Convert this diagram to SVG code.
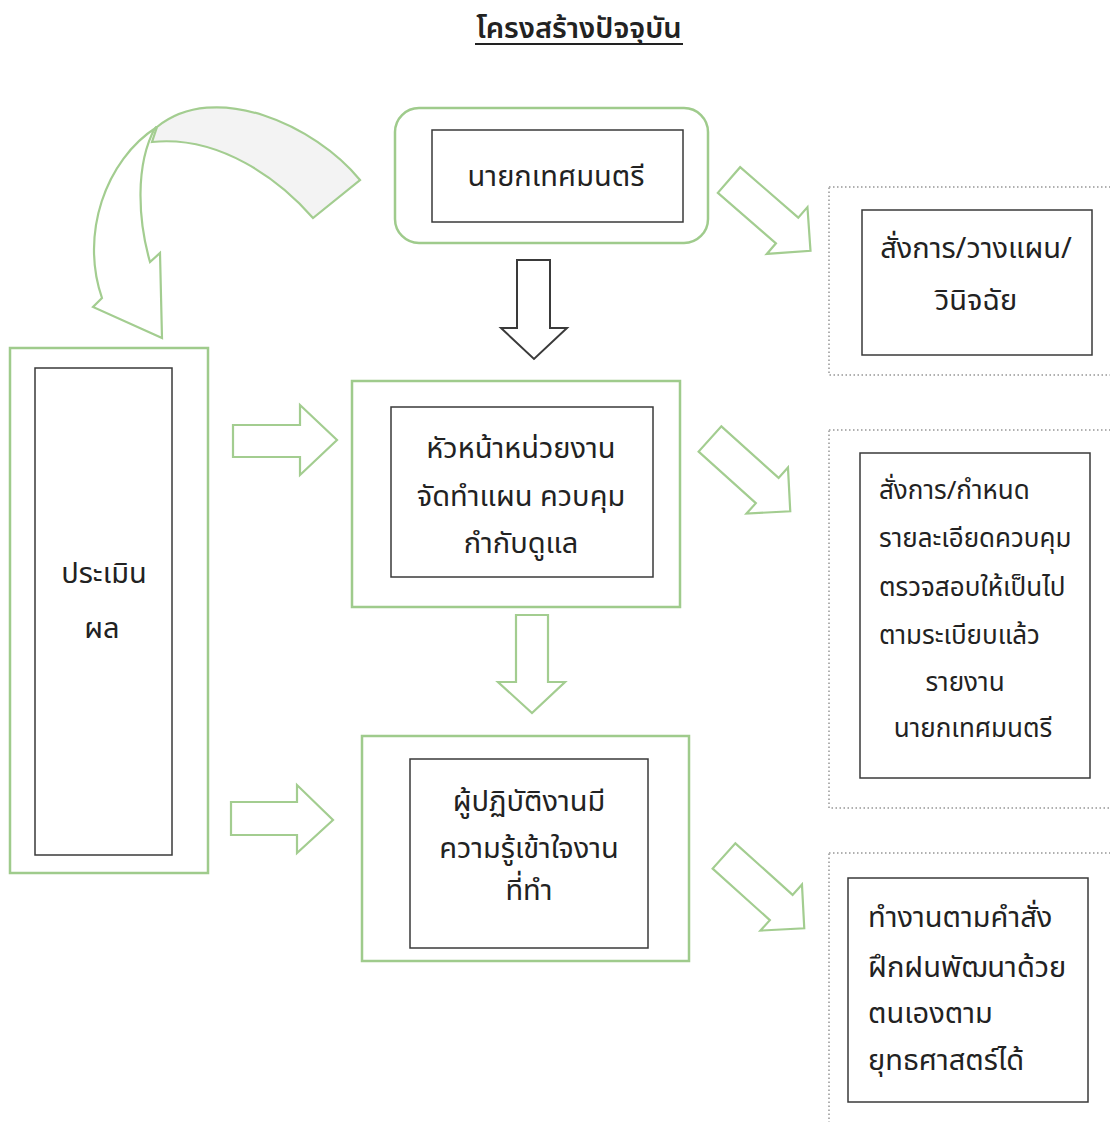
<svg xmlns="http://www.w3.org/2000/svg" width="1110" height="1122" viewBox="0 0 1110 1122">
<style>
  text { font-family: "Noto Sans Thai", "Noto Sans", "DejaVu Sans", sans-serif; fill: #222; }
  .t { font-size: 29px; }
  .s { font-size: 26px; }
  .c { text-anchor: middle; }
  .outer { fill: #fff; stroke: #9fcb8c; stroke-width: 2.5; }
  .inner { fill: #fff; stroke: #3a3a3a; stroke-width: 1.5; }
  .dotted { fill: #fff; stroke: #b0b0b0; stroke-width: 2; stroke-dasharray: 1.5 2.5; }
  .garrow { fill: #fff; stroke: #a3cd90; stroke-width: 2.2; stroke-linejoin: miter; }
  .darrow { fill: #fff; stroke: #3a3a3a; stroke-width: 2; }
</style>
<defs>
  <polygon id="diag" points="0,-17 77,-17 77,-31 108,0 77,31 77,17 0,17"/>
</defs>
<rect width="1110" height="1122" fill="#fff"/>

<g id="title">
  <text x="579" y="38" class="c" style="font-size:29px;font-weight:600">โครงสร้างปัจจุบัน</text>
  <line x1="475" y1="44" x2="683" y2="44" stroke="#222" stroke-width="2"/>
</g>

<g id="connectors">
  <g id="curved-arrow">
    <path class="garrow" style="fill:#f3f3f3" d="M 360,180 C 315,125 215,80 157,127 L 152,142 C 220,135 280,180 313,218 Z"/>
    <path class="garrow" d="M 157,127 C 105,160 80,235 102,298 L 93,307 L 162,338 L 160,253 L 150,262 C 138,220 135,165 155,128 Z"/>
  </g>
  <polygon class="darrow" points="517,260 550,260 550,328 567,328 534,359 501,328 517,328"/>
  <polygon class="garrow" points="516,615 548,615 548,682 565,682 532,713 498,682 516,682"/>
  <polygon class="garrow" points="233,425 300,425 300,405 337,440 300,475 300,457 233,457"/>
  <polygon class="garrow" points="231,802 297,802 297,785 333,820 297,853 297,835 231,835"/>
  <use href="#diag" class="garrow" transform="translate(729,180) rotate(41)"/>
  <use href="#diag" class="garrow" transform="translate(710,439) rotate(42)"/>
  <use href="#diag" class="garrow" transform="translate(724,856) rotate(42)"/>
</g>

<g id="node-mayor">
  <rect class="outer" x="395" y="108" width="313" height="135" rx="24"/>
  <rect class="inner" x="432" y="130" width="251" height="92"/>
  <text class="t c" x="556" y="186">นายกเทศมนตรี</text>
</g>

<g id="node-head">
  <rect class="outer" x="352" y="381" width="328" height="226"/>
  <rect class="inner" x="391" y="407" width="262" height="170"/>
  <text class="t c" x="521" y="458">หัวหน้าหน่วยงาน</text>
  <text class="t c" x="521" y="506">จัดทำแผน ควบคุม</text>
  <text class="t c" x="521" y="553">กำกับดูแล</text>
</g>

<g id="node-worker">
  <rect class="outer" x="362" y="736" width="327" height="225"/>
  <rect class="inner" x="410" y="759" width="238" height="189"/>
  <text class="t c" x="529" y="811">ผู้ปฏิบัติงานมี</text>
  <text class="t c" x="529" y="858">ความรู้เข้าใจงาน</text>
  <text class="t c" x="529" y="900">ที่ทำ</text>
</g>

<g id="node-eval">
  <rect class="outer" x="10" y="348" width="198" height="525"/>
  <rect class="inner" x="35" y="368" width="137" height="487"/>
  <text class="t c" x="104" y="583">ประเมิน</text>
  <text class="t c" x="102" y="638">ผล</text>
</g>

<g id="node-r1">
  <rect class="dotted" x="829" y="187" width="285" height="188"/>
  <rect class="inner" x="862" y="210" width="230" height="145"/>
  <text class="t c" x="976" y="258">สั่งการ/วางแผน/</text>
  <text class="t c" x="976" y="310">วินิจฉัย</text>
</g>

<g id="node-r2">
  <rect class="dotted" x="829" y="430" width="285" height="378"/>
  <rect class="inner" x="860" y="453" width="230" height="325"/>
  <text class="s" x="879" y="499">สั่งการ/กำหนด</text>
  <text class="s" x="879" y="547">รายละเอียดควบคุม</text>
  <text class="s" x="879" y="596">ตรวจสอบให้เป็นไป</text>
  <text class="s" x="879" y="644">ตามระเบียบแล้ว</text>
  <text class="s c" x="965" y="691">รายงาน</text>
  <text class="s c" x="973" y="737">นายกเทศมนตรี</text>
</g>

<g id="node-r3">
  <rect class="dotted" x="829" y="853" width="285" height="270"/>
  <rect class="inner" x="848" y="878" width="240" height="224"/>
  <text class="t" x="868" y="927">ทำงานตามคำสั่ง</text>
  <text class="t" x="868" y="977">ฝึกฝนพัฒนาด้วย</text>
  <text class="t" x="868" y="1023">ตนเองตาม</text>
  <text class="t" x="868" y="1070">ยุทธศาสตร์ได้</text>
</g>
</svg>
